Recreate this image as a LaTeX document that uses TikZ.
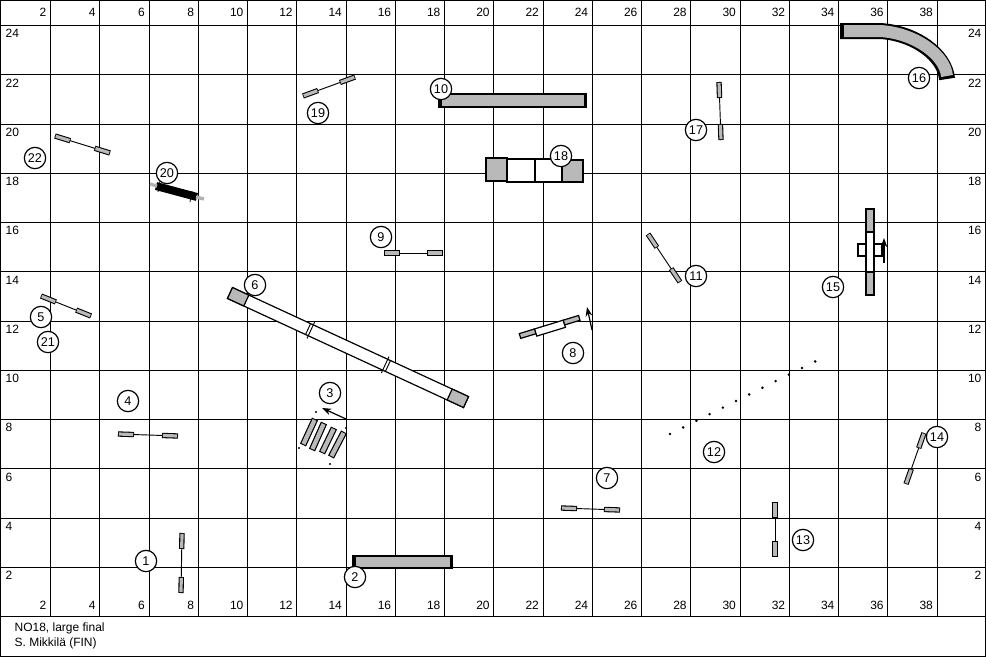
\documentclass[tikz,border=0pt]{standalone}
\usepackage{fontspec}
\setmainfont{Liberation Sans}
\usetikzlibrary{calc,arrows.meta}
\tikzset{
 num/.style={circle,draw,line width=0.9pt,fill=white,minimum size=16pt,inner sep=0pt,font=\fontsize{9.5}{10}\selectfont},
 lab/.style={font=\fontsize{9}{10}\selectfont,inner sep=1pt},
 bar/.style={line width=4pt,draw=black},
 barin/.style={line width=2.4pt,draw=gray!55},
 arr/.style={-{Stealth[length=7pt,width=5pt]},line width=0.9pt},
}
\newcommand\jmp[2]{%
 \draw[line width=0.7pt] #1 -- #2;
 \draw[bar] #1 -- ($#1!12pt!#2$); \draw[barin] ($#1!0.6pt!#2$) -- ($#1!11.4pt!#2$);
 \draw[bar] #2 -- ($#2!12pt!#1$); \draw[barin] ($#2!0.6pt!#1$) -- ($#2!11.4pt!#1$);}
\begin{document}
\begin{tikzpicture}[x=0.75pt,y=-0.75pt]
\useasboundingbox (0,0) rectangle (986,657);
\draw[line width=0.8pt] (0.5,0.5) rectangle (985.5,656.5);
\foreach \k in {0,...,18} \draw[line width=0.75pt] ({round(50+49.25*\k)},0) -- ({round(50+49.25*\k)},616);
\foreach \k in {0,...,12} \draw[line width=0.75pt] (0,{round(25+49.25*\k)}) -- (986,{round(25+49.25*\k)});
\foreach \k in {0,...,18} {
 \pgfmathtruncatemacro\v{2+2*\k}
 \node[lab,anchor=east] (t\k) at ({48+49.25*\k},12) {\v};
 \node[lab,anchor=east] (b\k) at ({48+49.25*\k},605) {\v};}
\foreach \k in {0,...,11} {
 \pgfmathtruncatemacro\v{24-2*\k}
 \node[lab,anchor=north west] (l\k) at (4,{28+49.25*\k}) {\v};
 \node[lab,anchor=north east] (r\k) at (983,{28+49.25*\k}) {\v};}
\node[lab,anchor=west] (f1) at (13,628) {NO18, large final};
\node[lab,anchor=west] (f2) at (13,643) {S. Mikkilä (FIN)};
% jumps
\jmp{(55,136)}{(110,153)}
\jmp{(303,96)}{(355,77)}
\jmp{(719,82)}{(721,140)}
\jmp{(384,253)}{(443,253)}
\jmp{(648,234)}{(680,282)}
\jmp{(41,296)}{(91,316)}
\jmp{(118,434)}{(178,436)}
\jmp{(924,433)}{(906,484)}
\jmp{(561,508)}{(620,510)}
\jmp{(775,502)}{(775,557)}
\jmp{(182,533)}{(181,593)}
% 20 long dark element
\draw[line width=6pt] (156,186) -- (197,197);
\draw[line width=0.6pt] (160,181) -- (158,192) (192,191) -- (190,202);
\draw[line width=2.5pt,gray!60] (150,184) -- (157,186);
\draw[line width=2.5pt,gray!60] (196,197) -- (204,199);
% tunnels
\draw[line width=11pt] (438,100.5) -- (587,100.5);
\draw[line width=8pt,gray!55] (442,100.5) -- (584,100.5);
\draw[line width=11pt] (352,562) -- (453,562);
\draw[line width=8pt,gray!55] (356,562) -- (450,562);
\draw[line width=12pt] (840,31) -- (880,31) .. controls (915,33) and (945,55) .. (947,79);
\draw[line width=9pt,gray!55] (844,31) -- (880,31) .. controls (915,33) and (945,55) .. (947,76);
% 18
\draw[line width=0.9pt,fill=gray!55] (486,158) rectangle (507,181);
\draw[line width=0.9pt,fill=white] (507,159) rectangle (535,182);
\draw[line width=0.9pt,fill=white] (535,159) rectangle (562,182);
\draw[line width=0.9pt,fill=gray!55] (562,160) rectangle (583,182);
% dog walk 6
\begin{scope}[shift={(230,293)},rotate=-24.8]
\draw[line width=0.9pt,fill=white] (0,-6) rectangle (260,6);
\draw[line width=0.9pt,fill=gray!55] (0,-6) rectangle (18,6);
\draw[line width=0.9pt,fill=gray!55] (242,-6) rectangle (260,6);
\draw[line width=0.7pt] (86,-6) -- (86,6) (174,-6) -- (174,6);
\draw[line width=0.7pt] (89,-9) -- (89,9) (171,-9) -- (171,9);
\end{scope}
% seesaw 8
\begin{scope}[shift={(520,336)},rotate=17]
\draw[line width=0.9pt,fill=gray!55] (0,-2.5) rectangle (16,2.5);
\draw[line width=0.9pt,fill=white] (16,-2.5) rectangle (46,5);
\draw[line width=0.9pt,fill=gray!55] (46,-2.5) rectangle (62,2.5);
\end{scope}
\draw[arr] (592,330) -- (587,307);
% 15
\draw[line width=0.9pt,fill=white] (858,244) rectangle (882,256);
\draw[line width=0.9pt,fill=white] (866,209) rectangle (874,295);
\draw[line width=0.9pt,fill=gray!55] (866,209) rectangle (874,232);
\draw[line width=0.9pt,fill=gray!55] (866,272) rectangle (874,295);
\draw[arr] (884,263) -- (884,238);
% 3
\foreach \ax/\ay/\bx/\by in {315/419/303/445, 324/423/312/450, 334/428/322/453, 344/432/331/457} {
 \draw[line width=5pt] (\ax,\ay) -- (\bx,\by);
 \draw[line width=3.2pt,gray!55] ($(\ax,\ay)!0.8pt!(\bx,\by)$) -- ($(\bx,\by)!0.8pt!(\ax,\ay)$);}
\fill (316,412) circle (1.2) (299,448) circle (1.2) (346,428) circle (1.2) (330,464) circle (1.2);
\draw[arr] (346,419) -- (322,408);
% 12 weave
\foreach \i in {0,...,11} \fill ({670+13.2*\i},{434-6.6*\i}) circle (1.4);
% numbers
\node[num] (n22) at (35,158) {22};
\node[num] (n20) at (167,173) {20};
\node[num] (n19) at (318,113) {19};
\node[num] (n10) at (441,89) {10};
\node[num] (n18) at (561,156) {18};
\node[num] (n17) at (696,130) {17};
\node[num] (n16) at (919,78) {16};
\node[num] (n9) at (381,237) {9};
\node[num] (n11) at (696,276) {11};
\node[num] (n15) at (833,287) {15};
\node[num] (n6) at (255,285) {6};
\node[num] (n5) at (41,317) {5};
\node[num] (n21) at (48,342) {21};
\node[num] (n8) at (573,353) {8};
\node[num] (n3) at (330,393) {3};
\node[num] (n4) at (128,401) {4};
\node[num] (n12) at (714,452) {12};
\node[num] (n14) at (937,437) {14};
\node[num] (n7) at (607,478) {7};
\node[num] (n13) at (803,540) {13};
\node[num] (n1) at (146,561) {1};
\node[num] (n2) at (355,577) {2};
\end{tikzpicture}
\end{document}
